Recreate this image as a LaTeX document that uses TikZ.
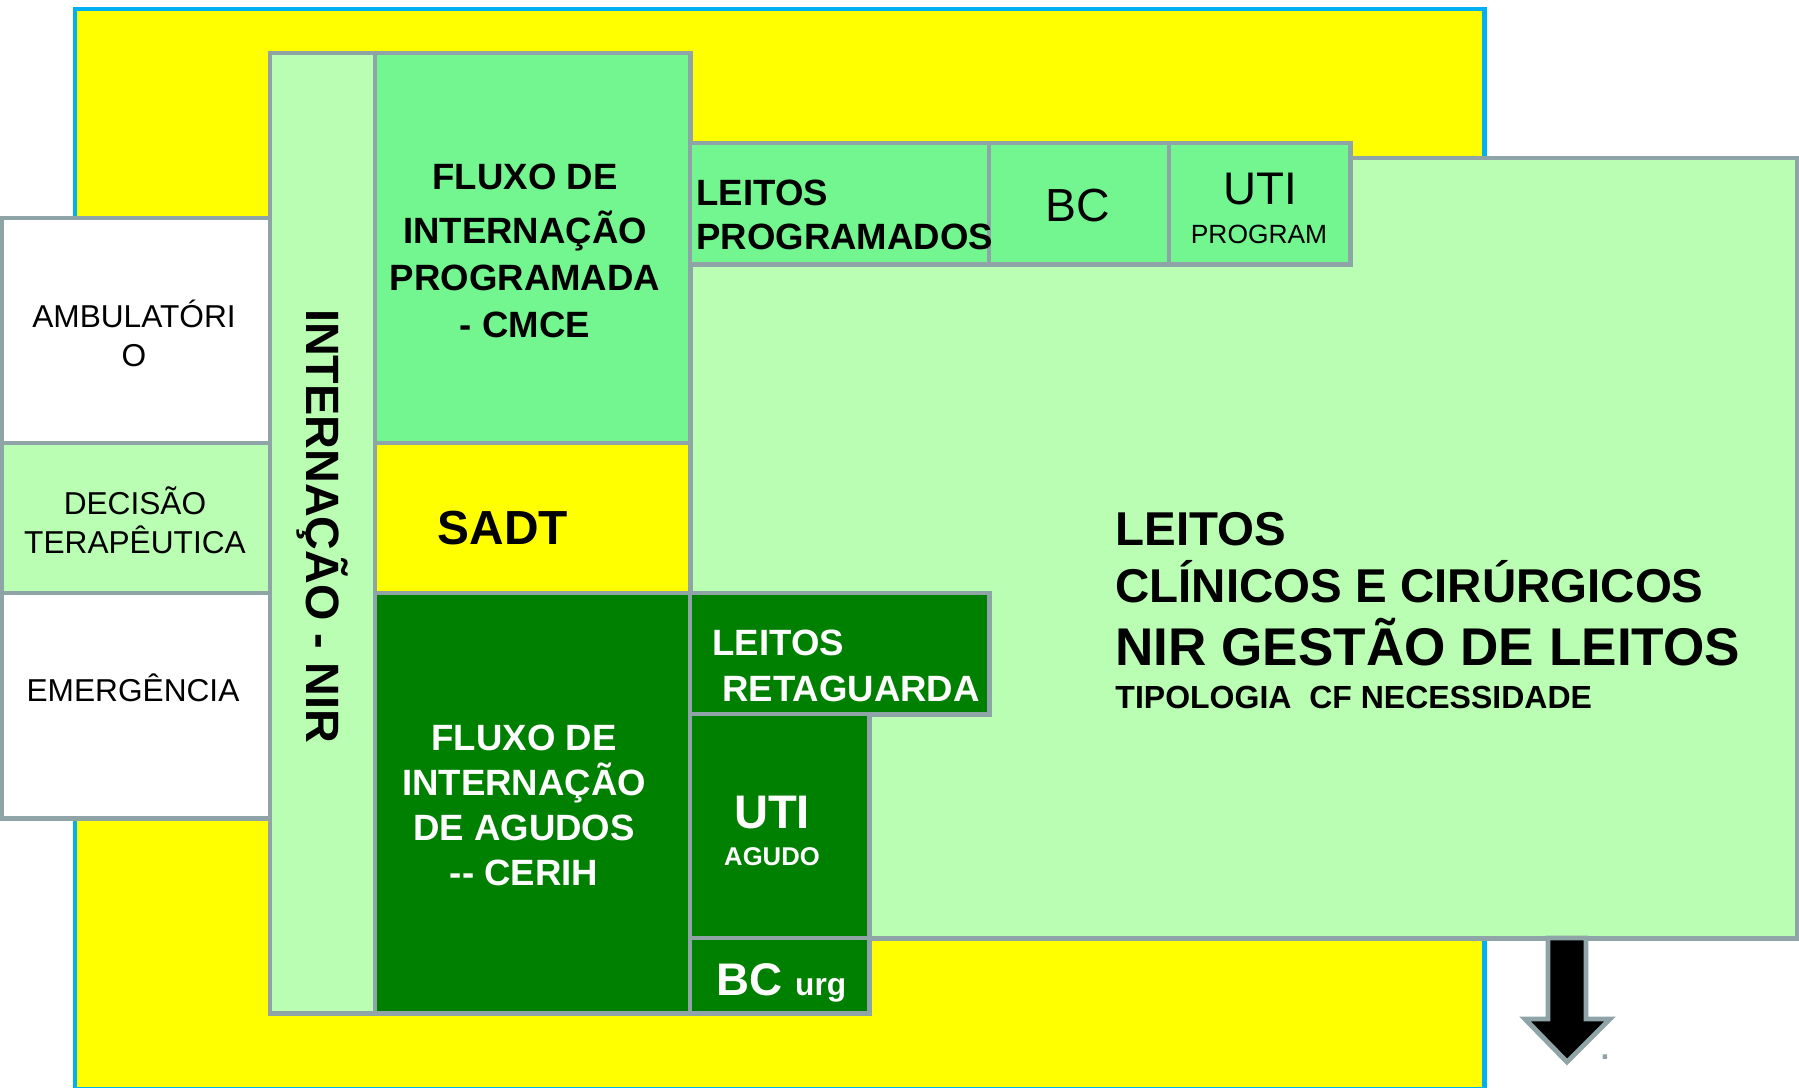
\documentclass[tikz,border=0pt]{standalone}
\usepackage{fontspec}
\setmainfont{Liberation Sans}
\tikzset{
every picture/.style={
line width=1.4pt
}}
\definecolor{edge}{HTML}{8EA4A6}
\definecolor{sky}{HTML}{00B0F0}
\definecolor{sun}{HTML}{FFFF00}
\definecolor{lgreen}{HTML}{BAFEB4}
\definecolor{mgreen}{HTML}{73F590}
\definecolor{dgreen}{HTML}{008000}

\begin{document}
\begin{tikzpicture}[x=0.01cm, y=-0.01cm,
block/.style = {rectangle, draw=edge, inner sep=0pt, outer sep=0pt, anchor=north west},
txt/.style = {align=center, inner sep=0pt},
big/.style = {font=\fontsize{10.4}{13.4}\selectfont\bfseries}]
\useasboundingbox (0,0) rectangle (1799,1088);

\node [block, draw=sky, fill=sun, minimum width=14.09cm, minimum height=10.80cm] at (75,9) (bg) {};

\node [block, fill=white, minimum width=2.68cm, minimum height=2.25cm] at (2,218) (amb) {};
\node [block, fill=lgreen, minimum width=2.68cm, minimum height=1.50cm] at (2,443) (dec) {};
\node [block, fill=white, minimum width=2.68cm, minimum height=2.25cm] at (2,593) (emg) {};
\node [block, fill=lgreen, minimum width=1.05cm, minimum height=9.60cm] at (270,53) (nir) {};
\node [block, fill=lgreen, minimum width=11.07cm, minimum height=7.80cm] at (690,158) (leitos) {};
\draw [draw=edge, fill=black] (1548,938) -- (1586,938) -- (1586,1019) -- (1610,1019)
  -- (1567,1062) -- (1525,1019) -- (1548,1019) -- cycle;
\node [block, fill=mgreen, minimum width=3.15cm, minimum height=3.90cm] at (375,53) (cmce) {};
\node [block, fill=sun, minimum width=3.15cm, minimum height=1.50cm] at (375,443) (sadt) {};
\node [block, fill=dgreen, minimum width=3.15cm, minimum height=4.20cm] at (375,593) (cerih) {};
\node [block, fill=mgreen, minimum width=2.99cm, minimum height=1.21cm] at (690,143) (lprog) {};
\node [block, fill=mgreen, minimum width=1.80cm, minimum height=1.21cm] at (989,143) (bc) {};
\node [block, fill=mgreen, minimum width=1.81cm, minimum height=1.21cm] at (1169,143) (utip) {};
\node [block, fill=dgreen, minimum width=2.99cm, minimum height=1.21cm] at (690,593) (ret) {};
\node [block, fill=dgreen, minimum width=1.79cm, minimum height=2.24cm] at (690,714) (utia) {};
\node [block, fill=dgreen, minimum width=1.79cm, minimum height=0.75cm] at (690,938) (bcu) {};

\node [txt, font=\fontsize{9}{11.1}\selectfont] at (134,333) (t-amb) {AMBULATÓRI\\O};
\node [txt, font=\fontsize{9}{11.1}\selectfont] at (135,520) (t-dec) {DECISÃO\\TERAPÊUTICA};
\node [txt, font=\fontsize{9}{11.1}\selectfont] at (133,688) (t-emg) {EMERGÊNCIA};
\node [txt, rotate=-90, font=\fontsize{13.3}{15}\selectfont\bfseries] at (322,526) (t-nir) {INTERNAÇÃO - NIR};
\node [txt, big] at (525,251) (t-cmce) {FLUXO DE\\[2pt]INTERNAÇÃO\\PROGRAMADA\\- CMCE};
\node [txt, font=\fontsize{13.6}{15}\selectfont\bfseries] at (503,528) (t-sadt) {SADT};
\node [txt, big, text=white, font=\fontsize{10.4}{12.8}\selectfont\bfseries] at (524,805) (t-cerih) {FLUXO DE\\INTERNAÇÃO\\DE AGUDOS\\-{}- CERIH};
\node [txt, big, anchor=base west] at (694,206) (t-lprog1) {LEITOS};
\node [txt, big, anchor=base west] at (694,250) (t-lprog2) {PROGRAMADOS};
\node [txt, font=\fontsize{13.2}{15}\selectfont] at (1078,206) (t-bc) {BC};
\node [txt, font=\fontsize{13}{15}\selectfont] at (1260,189) (t-uti) {UTI};
\node [txt, font=\fontsize{7.5}{9}\selectfont] at (1259,234) (t-prog) {PROGRAM};
\node [txt, big, text=white, anchor=base west] at (710,655) (t-ret1) {LEITOS};
\node [txt, big, text=white, anchor=base west] at (720,701) (t-ret2) {RETAGUARDA};
\node [txt, text=white, font=\fontsize{13.4}{15}\selectfont\bfseries] at (772,813) (t-utia) {UTI};
\node [txt, text=white, font=\fontsize{7.3}{9}\selectfont\bfseries] at (772,857) (t-agudo) {AGUDO};
\node [txt, text=white, anchor=base west, font=\fontsize{13}{15}\selectfont\bfseries] at (714,995) (t-bcu)
  {BC {\fontsize{9}{10}\selectfont urg}};
\node [txt, anchor=base west, font=\fontsize{13.5}{15}\selectfont\bfseries] at (1113,545) (t-l1) {LEITOS};
\node [txt, anchor=base west, font=\fontsize{13.5}{15}\selectfont\bfseries] at (1113,602) (t-l2) {CLÍNICOS E CIRÚRGICOS};
\node [txt, anchor=base west, font=\fontsize{15.1}{17}\selectfont\bfseries] at (1113,665) (t-l3) {NIR GESTÃO DE LEITOS};
\node [txt, anchor=base west, font=\fontsize{9.1}{11}\selectfont\bfseries] at (1113,708) (t-l4) {TIPOLOGIA\ \ CF NECESSIDADE};
\node [txt, text=edge, font=\fontsize{9}{10}\selectfont\bfseries] at (1605,1057) (dot) {.};

\end{tikzpicture}
\end{document}
